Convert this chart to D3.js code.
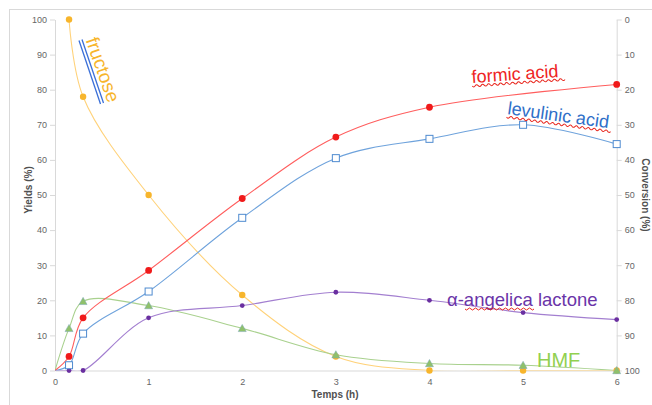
<!DOCTYPE html>
<html lang="en">
<head>
<meta charset="UTF-8" />
<title>Yields vs time</title>
<script src="https://cdnjs.cloudflare.com/ajax/libs/d3/7.6.1/d3.min.js"></script>
<style>
  body { margin: 0; background: #fff; }
  svg { display: block; font-family: "Liberation Sans", Arial, sans-serif; }
</style>
</head>
<body>
<div id="chart"></div>
<script>
// time points (h); 0 is the origin of the curves, no marker drawn there
const times = [0, 0.15, 0.3, 1, 2, 3, 4, 5, 6];
const fructose = [null, 100, 78, 50, 21.5, 4, 0, 0, 0];
const formicAcid = [0, 4, 15, 28.5, 49, 66.5, 75, null, 81.5];
const levulinicAcid = [0, 1.5, 10.5, 22.5, 43.5, 60.5, 66, 70, 64.5];
const angelicaLactone = [0, 0, 0, 15, 18.5, 22.3, 20, 16.5, 14.5];
const hmf = [0, 12, 19.7, 18.5, 12, 4.5, 2, 1.5, 0];
const yTicks = d3.range(0, 101, 10);
const xTicks = [0, 1, 2, 3, 4, 5, 6];

const width = 652, height = 405;
const svg = d3.select("#chart").append("svg").attr("width", width).attr("height", height);

// outer frame of the chart area
svg.append("rect").attr("x", 9.5).attr("y", 9.5).attr("width", 700).attr("height", 500)
  .attr("fill", "none").attr("stroke", "#d9d9d9");

const x = d3.scaleLinear().domain([0, 6]).range([55, 616.7]);
const y = d3.scaleLinear().domain([0, 100]).range([370.5, 19.5]);
const yRight = d3.scaleLinear().domain([0, 100]).range([19.5, 370.5]);

function styleAxis(g) {
  g.select(".domain").attr("stroke", "#d9d9d9");
  g.selectAll(".tick line").attr("stroke", "#d9d9d9");
  g.selectAll(".tick text").attr("fill", "#666").style("font-size", "9px");
}

svg.append("g").attr("transform", `translate(${x(0)},0)`)
  .call(d3.axisLeft(y).tickValues(yTicks).tickSize(5).tickPadding(3).tickSizeOuter(0))
  .call(styleAxis);
svg.append("g").attr("transform", `translate(${x(6)},0)`)
  .call(d3.axisRight(yRight).tickValues(yTicks).tickSize(5).tickPadding(3).tickSizeOuter(0))
  .call(styleAxis);
svg.append("g").attr("transform", `translate(0,${y(0)})`)
  .call(d3.axisBottom(x).tickValues(xTicks).tickSize(0).tickPadding(8).tickFormat(d3.format("d")))
  .call(styleAxis);

// axis titles
svg.append("text").attr("transform", "translate(32,190) rotate(-90)")
  .attr("text-anchor", "middle").attr("fill", "#505050")
  .style("font-size", "10px").style("font-weight", "bold").text("Yields (%)");
svg.append("text").attr("transform", "translate(642,195) rotate(90)")
  .attr("text-anchor", "middle").attr("fill", "#505050")
  .style("font-size", "10px").style("font-weight", "bold").text("Conversion (%)");
svg.append("text").attr("x", 335).attr("y", 398)
  .attr("text-anchor", "middle").attr("fill", "#505050")
  .style("font-size", "10px").style("font-weight", "bold").text("Temps (h)");

const series = [
  { name: "fructose", values: fructose, line: "#ffd27a", mark: "#f7b52c", shape: "circle", r: 3.2 },
  { name: "HMF", values: hmf, line: "#a9d18e", mark: "#8fc16a", shape: "triangle", r: 4 },
  { name: "lactone", values: angelicaLactone, line: "#a37fd0", mark: "#6a2fa0", shape: "dot", r: 2.4 },
  { name: "levulinic", values: levulinicAcid, line: "#6fa3dc", mark: "#4f8bd0", shape: "square", r: 3.5 },
  { name: "formic", values: formicAcid, line: "#ff5e5e", mark: "#f01a1a", shape: "circle", r: 3.4 }
];

svg.append("clipPath").attr("id", "plot").append("rect")
  .attr("x", x(0)).attr("y", y(100) - 5).attr("width", x(6) - x(0) + 5).attr("height", y(0) - y(100) + 5);

const line = d3.line()
  .x(d => x(d[0])).y(d => y(d[1]))
  .curve(d3.curveCatmullRom.alpha(0.5));

series.forEach(s => {
  const pts = times.map((t, i) => [t, s.values[i]]).filter(d => d[1] !== null);
  svg.append("path").datum(pts)
    .attr("clip-path", "url(#plot)")
    .attr("fill", "none").attr("stroke", s.line).attr("stroke-width", 1.1)
    .attr("d", line);
});

series.forEach(s => {
  const pts = times.map((t, i) => [t, s.values[i]]).filter(d => d[1] !== null && d[0] > 0);
  const g = svg.append("g");
  pts.forEach(d => {
    const cx = x(d[0]), cy = y(d[1]);
    if (s.shape === "circle" || s.shape === "dot") {
      g.append("circle").attr("cx", cx).attr("cy", cy).attr("r", s.r).attr("fill", s.mark);
    } else if (s.shape === "square") {
      g.append("rect").attr("x", cx - s.r).attr("y", cy - s.r)
        .attr("width", 2 * s.r).attr("height", 2 * s.r)
        .attr("fill", "#fff").attr("stroke", s.mark).attr("stroke-width", 1);
    } else if (s.shape === "triangle") {
      g.append("path")
        .attr("d", `M${cx},${cy - s.r}L${cx + s.r},${cy + s.r * 0.8}L${cx - s.r},${cy + s.r * 0.8}Z`)
        .attr("fill", s.mark).attr("stroke", "#7aa6b8").attr("stroke-width", 0.5);
    }
  });
});

// wavy "spell-check" underline
function squiggle(x0, x1, yy, angle, cx, cy) {
  let d = `M${x0},${yy}`;
  for (let xx = x0; xx < x1; xx += 3) {
    d += `Q${xx + 1.5},${yy + ((xx - x0) / 3 % 2 === 0 ? 2 : -2)} ${xx + 3},${yy}`;
  }
  svg.append("path").attr("d", d).attr("fill", "none").attr("stroke", "#e8261d").attr("stroke-width", 1)
    .attr("transform", `rotate(${angle},${cx},${cy})`);
}

// annotations
svg.append("text").attr("transform", "translate(85.5,40) rotate(70.5)")
  .attr("fill", "#f7b52c").style("font-size", "19px").text("fructose");
svg.append("line").attr("x1", 79).attr("y1", 40.5).attr("x2", 100.5).attr("y2", 104)
  .attr("stroke", "#3a6fd8").attr("stroke-width", 1.3);
svg.append("line").attr("x1", 82).attr("y1", 39.5).attr("x2", 103.5).attr("y2", 103)
  .attr("stroke", "#3a6fd8").attr("stroke-width", 1.3);

svg.append("text").attr("transform", "translate(472,83) rotate(-4)")
  .attr("fill", "#ee2424").style("font-size", "18px").text("formic acid");
squiggle(472, 564, 86, -4, 472, 83);

svg.append("text").attr("transform", "translate(507,114) rotate(8)")
  .attr("fill", "#2f6fc8").style("font-size", "18px").text("levulinic acid");
squiggle(507, 612, 117, 8, 507, 114);

svg.append("text").attr("x", 447).attr("y", 306)
  .attr("fill", "#6a34a8").style("font-size", "18.5px").text("\u03b1-angelica lactone");
squiggle(465, 533, 309, 0, 0, 0);

svg.append("text").attr("x", 537).attr("y", 367)
  .attr("fill", "#92d050").style("font-size", "20px").text("HMF");
</script>
</body>
</html>
